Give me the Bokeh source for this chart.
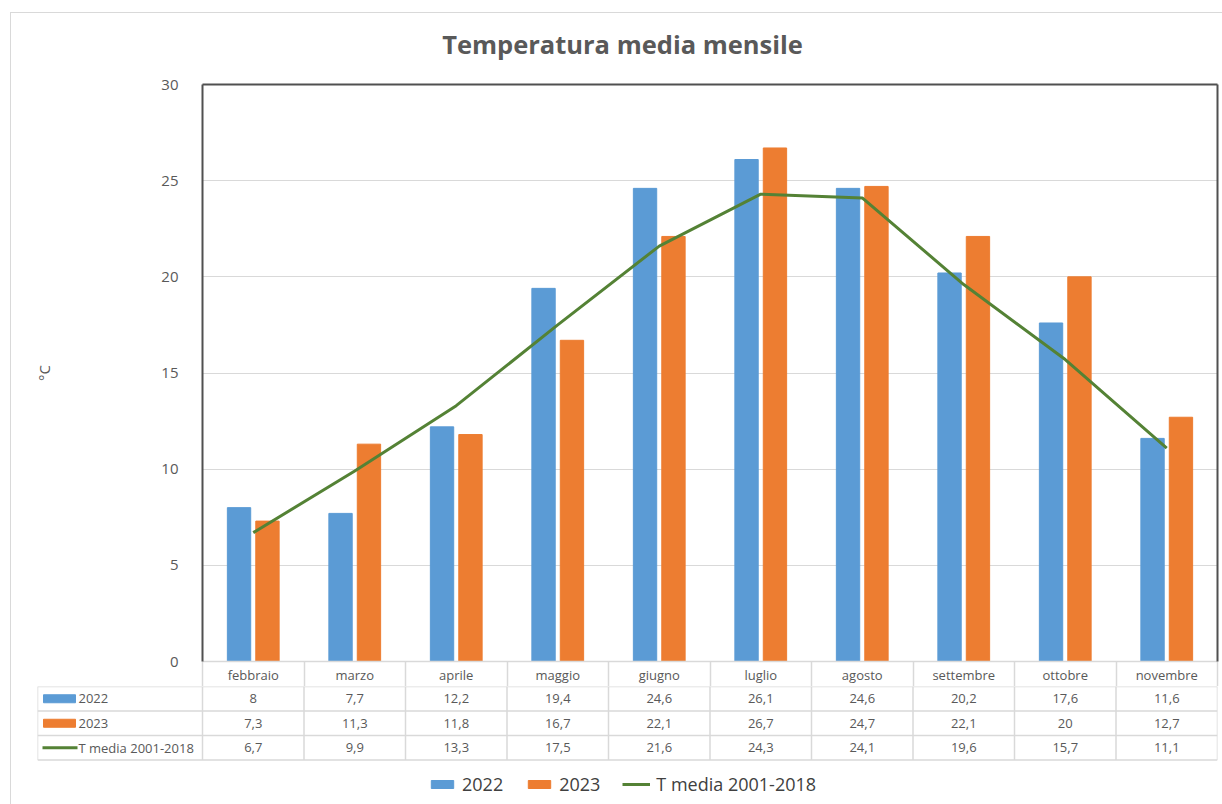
from bokeh.plotting import figure
from bokeh.models import Range1d, LinearAxis, FixedTicker, Legend, LegendItem, ColumnDataSource
from bokeh.layouts import column
from bokeh.transform import dodge
from bokeh.core.properties import value
from bokeh.embed import file_html
from bokeh.resources import INLINE

# ---------------- data ----------------
months = ["febbraio", "marzo", "aprile", "maggio", "giugno", "luglio",
          "agosto", "settembre", "ottobre", "novembre"]
t2022 = [8, 7.7, 12.2, 19.4, 24.6, 26.1, 24.6, 20.2, 17.6, 11.6]
t2023 = [7.3, 11.3, 11.8, 16.7, 22.1, 26.7, 24.7, 22.1, 20, 12.7]
tmedia = [6.7, 9.9, 13.3, 17.5, 21.6, 24.3, 24.1, 19.6, 15.7, 11.1]
series_names = ["2022", "2023", "T media 2001-2018"]
y_ticks = [0, 5, 10, 15, 20, 25, 30]
title_text = "Temperatura media mensile"
y_label = "°C"

# ---------------- style / layout ----------------
BLUE = "#5B9BD5"
ORANGE = "#ED7D31"
GREEN = "#548235"
TXT = "#595959"
GRID = "#D9D9D9"
AXIS = "#505050"
FONT = "Open Sans"
W = 1222
H = 804
OX, OY = 10, 12            # outer chart border position
OX1, OY1 = OX + 1, OY + 1  # content origin inside border
TITLE_B = 72               # bottom of the title strip
TITLE_CX, TITLE_BASE = 622, 43
FRAME_L, FRAME_R, FRAME_T, FRAME_B = 202, 1217, 84, 661
HEAD_H = 25
TABLE_L = 37
ROW_H = 24.5
BAR_W = 0.23
BAR_OFF = 0.14

n = len(months)
xc = [i + 0.5 for i in range(n)]
ppu = (FRAME_R - FRAME_L) / n  # pixels per category unit
CW = W - OX1

# ---------------- title strip ----------------
tfig = figure(width=CW, height=TITLE_B - OY1, x_range=Range1d(OX1, W), y_range=Range1d(TITLE_B, OY1),
              output_backend="svg", toolbar_location=None,
              min_border_left=0, min_border_right=0, min_border_top=0, min_border_bottom=0)
tfig.title.visible = False
tfig.frame_align = False
tfig.axis.visible = False
tfig.grid.visible = False
tfig.outline_line_color = None
tfig.text(x=[TITLE_CX], y=[TITLE_BASE], text=[title_text], text_align="center",
          text_baseline="alphabetic", text_font=value(FONT), text_font_size="25.5px",
          text_font_style="bold", text_color=TXT)

# ---------------- top chart ----------------
top = figure(width=CW, height=FRAME_B + HEAD_H - TITLE_B, x_range=Range1d(0, n), y_range=Range1d(0, 30),
             output_backend="svg", toolbar_location=None,
             min_border_left=FRAME_L - OX1, min_border_right=W - FRAME_R,
             min_border_top=FRAME_T - TITLE_B, min_border_bottom=HEAD_H)
top.title.visible = False
top.frame_align = False
top.outline_line_color = None
top.xgrid.visible = False
top.ygrid.grid_line_color = GRID
top.ygrid.grid_line_width = 1
top.ygrid.ticker = FixedTicker(ticks=y_ticks)

# x axis = header row of the data table
top.xaxis.ticker = FixedTicker(ticks=xc, minor_ticks=list(range(n + 1)))
top.xaxis.major_label_overrides = {x: m for x, m in zip(xc, months)}
top.xaxis.axis_line_color = GRID
top.xaxis.axis_line_width = 1.5
top.xaxis.major_tick_line_color = None
top.xaxis.major_tick_out = 0
top.xaxis.major_tick_in = 0
top.xaxis.minor_tick_line_color = GRID
top.xaxis.minor_tick_line_width = 1.5
top.xaxis.minor_tick_in = 0
top.xaxis.minor_tick_out = HEAD_H
top.xaxis.major_label_standoff = -21
top.xaxis.major_label_text_font = FONT
top.xaxis.major_label_text_font_size = "13px"
top.xaxis.major_label_text_color = TXT

top.yaxis.ticker = FixedTicker(ticks=y_ticks)
top.yaxis.axis_line_color = AXIS
top.yaxis.axis_line_width = 2
top.yaxis.major_tick_line_color = None
top.yaxis.minor_tick_line_color = None
top.yaxis.major_label_text_font = FONT
top.yaxis.major_label_text_font_size = "15px"
top.yaxis.major_label_text_color = TXT
top.yaxis.major_label_standoff = 18
top.yaxis.axis_label = y_label
top.yaxis.axis_label_text_font = FONT
top.yaxis.axis_label_text_font_size = "15px"
top.yaxis.axis_label_text_font_style = "normal"
top.yaxis.axis_label_text_color = TXT
top.yaxis.axis_label_standoff = 104

for loc in ("right", "above"):
    ax = LinearAxis(ticker=FixedTicker(ticks=[]), axis_line_color=AXIS, axis_line_width=2,
                    major_tick_line_color=None, minor_tick_line_color=None,
                    major_label_text_font_size="0px", major_label_standoff=0,
                    major_tick_out=0, minor_tick_out=0)
    top.add_layout(ax, loc)

src = ColumnDataSource(dict(x=xc, a=t2022, b=t2023, m=tmedia))
top.vbar(x=dodge("x", -BAR_OFF), top="a", width=BAR_W, source=src, color=BLUE)
top.vbar(x=dodge("x", BAR_OFF), top="b", width=BAR_W, source=src, color=ORANGE)
top.line(x="x", y="m", source=src, line_color=GREEN, line_width=3)

# ---------------- data table rows + legend ----------------
BH = H - FRAME_B - HEAD_H
x_left = -(FRAME_L - TABLE_L) / ppu
bot = figure(width=CW, height=BH, x_range=Range1d(x_left, n), y_range=Range1d(BH, 0),
             output_backend="svg", toolbar_location=None,
             min_border_left=TABLE_L - OX1, min_border_right=W - FRAME_R,
             min_border_top=0, min_border_bottom=0)
bot.title.visible = False
bot.frame_align = False
bot.axis.visible = False
bot.grid.visible = False
bot.outline_line_color = None

# horizontal table lines
hy = [k * ROW_H for k in range(4)]
bot.segment(x0=[x_left] * 4, y0=hy, x1=[n] * 4, y1=hy, line_color=GRID, line_width=1.5)
# vertical table lines
vx = list(range(n + 1)) + [x_left]
bot.segment(x0=vx, y0=[0] * len(vx), x1=vx, y1=[3 * ROW_H] * len(vx),
            line_color=GRID, line_width=1.5)


def fmt(v):
    return f"{v:g}".replace(".", ",")


for r, ser in enumerate([t2022, t2023, tmedia]):
    bot.text(x=xc, y=[(r + 0.5) * ROW_H] * n, text=[fmt(v) for v in ser],
             text_align="center", text_baseline="middle",
             text_font=value(FONT), text_font_size="13px", text_color=TXT)

# legend keys in table
sw_x = x_left + 22 / ppu
r_blue = bot.rect(x=[sw_x], y=[0.5 * ROW_H], width=32 / ppu, height=8, color=BLUE)
r_orange = bot.rect(x=[sw_x], y=[1.5 * ROW_H], width=32 / ppu, height=8, color=ORANGE)
r_green = bot.line(x=[x_left + 5 / ppu, x_left + 40 / ppu], y=[2.5 * ROW_H] * 2,
                   line_color=GREEN, line_width=3)
bot.text(x=[x_left + 41 / ppu] * 3, y=[(r + 0.5) * ROW_H for r in range(3)], text=series_names,
         text_align="left", text_baseline="middle",
         text_font=value(FONT), text_font_size="13px", text_color=TXT)

legend = Legend(items=[LegendItem(label=series_names[0], renderers=[r_blue]),
                       LegendItem(label=series_names[1], renderers=[r_orange]),
                       LegendItem(label=series_names[2], renderers=[r_green])],
                orientation="horizontal", location=(391, 8),
                padding=0, margin=0, spacing=22, border_line_color=None,
                background_fill_alpha=0, glyph_width=28, glyph_height=10,
                label_standoff=6, label_text_font=FONT, label_text_font_size="18px",
                label_text_color="#404040")
bot.add_layout(legend)

layout = column(tfig, top, bot, spacing=0, margin=(OY, 0, 0, OX),
                styles={"border-left": "1px solid #D9D9D9", "border-top": "1px solid #D9D9D9"})
open("out.html", "w").write(file_html(layout, INLINE))
